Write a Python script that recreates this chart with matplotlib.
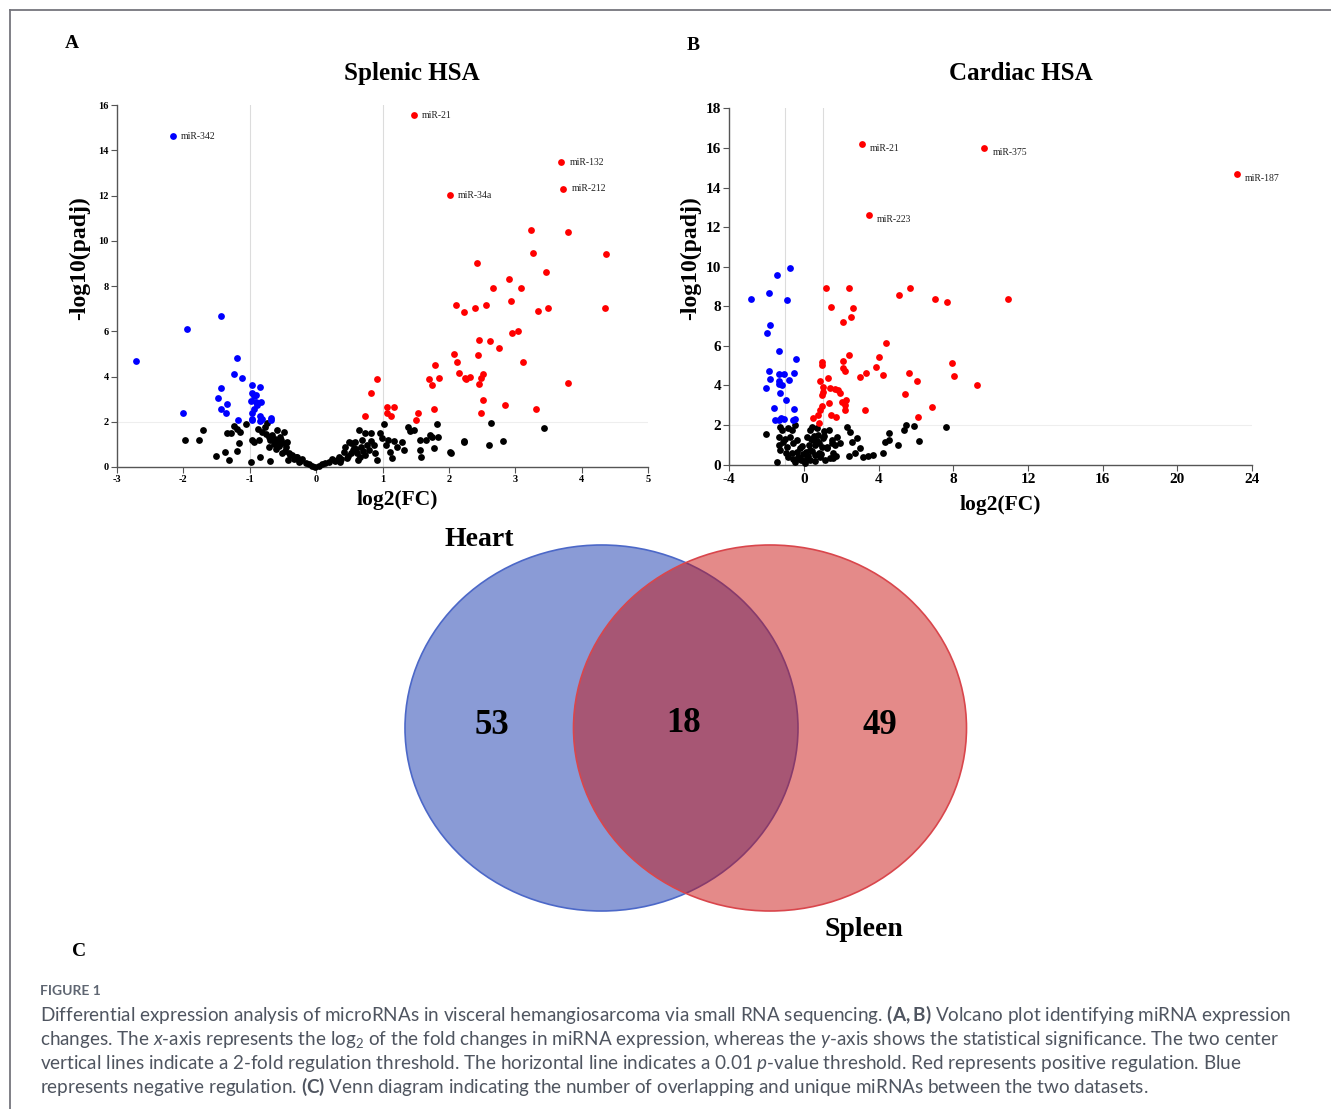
import numpy as np
import matplotlib.pyplot as plt
from matplotlib.patches import Ellipse

plt.rcParams["font.family"] = ["Liberation Serif", "DejaVu Serif"]
plt.rcParams["axes.unicode_minus"] = False
plt.rcParams["mathtext.fontset"] = "custom"
plt.rcParams["mathtext.rm"] = "Lato"
plt.rcParams["mathtext.it"] = "Lato:italic"
plt.rcParams["mathtext.bf"] = "Lato:bold"

# ---- panel A: splenic HSA ----
A_up_names = ["miR-21", "miR-132", "miR-212", "miR-34a"]
A_up_x = [1.47, 3.69, 3.72, 2.01, 3.24, 3.79, 3.26, 4.37, 2.43, 3.46, 2.91, 2.66, 3.09,
          2.93, 2.10, 2.56, 2.40, 2.23, 3.34, 3.50, 4.35, 2.95, 3.04, 2.46, 2.62, 2.75,
          2.08, 2.44, 2.12, 3.11, 1.79, 2.15, 2.24, 2.26, 2.32, 2.51, 2.49, 2.46, 1.70,
          1.74, 1.85, 0.91, 3.79, 0.82, 2.52, 2.84, 1.07, 1.17, 1.06, 1.13, 1.54, 1.78,
          2.48, 3.31, 0.73, 1.50]
A_up_y = [15.55, 13.48, 12.29, 12.02, 10.46, 10.40, 9.44, 9.42, 9.03, 8.60, 8.30, 7.92, 7.92,
          7.32, 7.15, 7.18, 7.05, 6.87, 6.89, 7.05, 7.05, 5.91, 6.00, 5.63, 5.55, 5.28,
          4.99, 4.93, 4.66, 4.65, 4.51, 4.16, 3.95, 3.88, 3.97, 4.09, 3.95, 3.69, 3.88,
          3.63, 3.95, 3.89, 3.70, 3.29, 2.98, 2.76, 2.64, 2.64, 2.40, 2.26, 2.37, 2.57,
          2.37, 2.58, 2.24, 2.06]
A_down_names = ["miR-342"]
A_down_x = [-2.16, -2.71, -1.95, -1.43, -1.19, -1.23, -1.12, -1.44, -1.48, -1.35, -1.44,
            -1.36, -2.00, -1.18, -0.97, -0.85, -0.96, -0.94, -0.90, -0.98, -0.91, -0.83,
            -0.89, -0.93, -0.97, -0.85, -0.81, -0.68, -0.96, -0.68, -0.85, -0.96]
A_down_y = [14.63, 4.68, 6.08, 6.68, 4.84, 4.11, 3.95, 3.51, 3.07, 2.80, 2.58,
            2.40, 2.39, 2.06, 3.63, 3.54, 3.29, 3.14, 3.17, 2.91, 2.88, 2.88,
            2.73, 2.58, 2.40, 2.26, 2.14, 2.17, 2.06, 2.09, 2.02, 2.14]
A_ns_x = [-1.98, -1.76, -1.71, -1.51, -1.37, -1.31, -1.34, -1.28, -1.23, -1.19, -1.14, -1.16,
          -1.19, -1.05, -0.98, -0.97, -0.94, -0.88, -0.86, -0.84, -0.81, -0.77, -0.74, -0.76,
          -0.69, -0.71, -0.69, -0.71, -0.64, -0.61, -0.58, -0.54, -0.49, -0.51, -0.51, -0.46,
          -0.44, -0.41, -0.43, -0.36, -0.33, -0.29, -0.26, -0.21, -0.16, -0.11, -0.06, -0.01,
          0.04, 0.09, 0.14, 0.19, 0.24, 0.29, 0.34, 0.38, 0.42, 0.44, 0.48, 0.52, 0.56, 0.58,
          0.62, 0.64, 0.67, 0.69, 0.73, 0.74, 0.77, 0.79, 0.82, 0.83, 0.87, 0.88, 0.92, 0.96,
          0.99, 1.02, 1.05, 1.08, 1.12, 1.14, 1.17, 1.22, 1.29, 1.32, 1.39, 1.41, 1.47, 1.56,
          1.57, 1.58, 1.66, 1.71, 1.75, 1.78, 1.82, 1.83, 2.02, 2.23, 2.60, 2.82, 2.63, 3.43,
          2.03, 2.22, -0.62, -0.56, -0.47, -0.39, -0.31, -0.24, 0.31, 0.36, 0.46, 0.53, 0.60,
          0.66, 0.71, -0.66, -0.59, -0.53, 0.50, 0.57, 0.63]
A_ns_y = [1.19, 1.21, 1.62, 0.50, 0.65, 0.31, 1.49, 1.52, 1.81, 1.67, 1.56, 1.06,
          0.69, 1.90, 0.21, 1.21, 1.09, 1.67, 1.19, 0.43, 1.56, 1.78, 1.93, 1.46,
          0.28, 1.34, 1.19, 0.90, 1.00, 0.80, 1.15, 1.34, 1.53, 1.05, 0.60, 0.87,
          1.09, 0.60, 0.31, 0.53, 0.34, 0.43, 0.24, 0.34, 0.19, 0.12, 0.04, 0.01,
          0.06, 0.12, 0.16, 0.22, 0.34, 0.28, 0.46, 0.34, 0.68, 0.90, 0.49, 1.05, 0.75, 1.12,
          0.63, 1.64, 0.90, 1.19, 1.52, 0.53, 0.97, 0.75, 1.16, 1.49, 0.97, 0.60, 0.31, 1.49,
          1.27, 1.90, 0.97, 1.19, 0.68, 0.38, 1.16, 0.90, 1.12, 0.75, 1.78, 1.61, 1.64, 1.19,
          0.75, 0.43, 1.19, 1.42, 1.34, 0.83, 1.90, 1.34, 0.68, 1.15, 0.99, 1.14, 1.96, 1.71,
          0.63, 1.12, 1.25, 0.95, 0.72, 0.55, 0.42, 0.28, 0.30, 0.20, 0.40, 0.62, 0.80,
          0.45, 0.70, 1.40, 1.62, 1.20, 1.10, 0.85, 0.30]

# ---- panel B: cardiac HSA ----
B_up_names = ["miR-21", "miR-223", "miR-375", "miR-187"]
B_up_x = [3.09, 3.48, 9.66, 23.18, 10.95, 9.29, 1.20, 2.39, 1.45, 2.64, 2.54, 2.07, 5.09,
          5.66, 7.00, 7.68, 4.39, 4.02, 3.84, 4.23, 3.30, 3.00, 2.43, 2.07, 2.07, 2.18,
          0.96, 0.96, 1.29, 0.86, 1.00, 1.00, 0.98, 1.39, 1.66, 1.84, 1.93, 1.34, 2.05,
          2.25, 2.20, 2.21, 0.96, 0.86, 0.73, 0.50, 0.82, 1.45, 1.70, 3.29, 5.39, 5.63,
          6.05, 7.91, 8.04, 6.88, 6.13]
B_up_y = [16.20, 12.61, 15.99, 14.68, 8.35, 4.02, 8.91, 8.91, 7.96, 7.90, 7.46, 7.21, 8.55,
          8.91, 8.35, 8.23, 6.16, 5.42, 4.95, 4.51, 4.63, 4.43, 5.54, 5.24, 4.90, 4.75,
          5.20, 5.02, 4.36, 4.21, 3.94, 3.69, 3.52, 3.89, 3.82, 3.77, 3.60, 3.10, 3.18,
          3.27, 3.01, 2.76, 2.96, 2.76, 2.51, 2.34, 2.09, 2.51, 2.42, 2.76, 3.55, 4.63,
          4.24, 5.12, 4.48, 2.93, 2.41]
B_down_x = [-0.77, -1.46, -1.88, -2.84, -0.89, -1.84, -1.98, -1.32, -0.41, -1.86, -1.32,
            -1.07, -0.55, -1.82, -0.79, -1.32, -1.20, -1.34, -2.02, -1.30, -0.95, -1.59,
            -0.52, -1.57, -1.36, -1.23, -1.05, -0.61, -0.50]
B_down_y = [9.93, 9.60, 8.69, 8.37, 8.33, 7.07, 6.63, 5.72, 5.32, 4.75, 4.58,
            4.58, 4.61, 4.33, 4.26, 4.21, 4.04, 4.06, 3.89, 3.62, 3.25, 2.85,
            2.79, 2.27, 2.27, 2.37, 2.29, 2.27, 2.31]
B_ns_x = [-2.05, -1.46, -1.29, -1.20, -1.32, -1.11, -1.34, -1.29, -0.84, -0.66, -0.48, -0.75,
          -0.89, -0.57, -0.39, -0.66, -0.84, -0.39, -0.30, -0.48, -0.13, 0.05, -0.07, -0.21,
          0.14, 0.32, 0.32, 0.41, 0.50, 0.59, 0.68, 0.77, 0.86, 0.82, 1.00, 1.07, 1.21, 1.36,
          1.39, 1.48, 1.57, 1.66, 1.79, 1.93, 1.57, 0.59, 1.13, 2.29, 2.46, 2.55, 2.82, 2.43,
          2.73, 3.00, 3.18, 3.45, 3.71, 4.21, 4.34, 4.55, 4.57, 5.05, 5.36, 5.46, 5.91, 6.18,
          7.61, -1.00, -0.95, -0.20, 0.00, 0.20, 0.25, 0.45, 0.55, 0.70, 0.90, 1.10, 1.25,
          -0.10, 0.10, 0.35, 0.60, 0.95, 1.50, 0.15, -0.60, 0.40, 0.80, 1.70]
B_ns_y = [1.53, 0.15, 1.92, 1.75, 1.41, 1.16, 0.99, 0.74, 1.84, 1.75, 2.00, 1.41,
          0.91, 1.08, 1.25, 0.57, 0.40, 0.66, 0.40, 0.15, 0.24, 0.07, 0.54, 0.82,
          0.32, 0.74, 1.75, 1.92, 1.25, 0.99, 1.84, 1.50, 0.40, 1.08, 1.33, 1.70, 0.82, 1.75,
          0.32, 1.25, 0.61, 0.99, 1.38, 1.08, 0.32, 0.49, 0.24, 1.92, 1.67, 1.16, 1.33, 0.44,
          0.57, 0.82, 0.40, 0.44, 0.49, 0.61, 1.16, 1.62, 1.25, 0.99, 1.75, 2.00, 1.97, 1.21,
          1.90, 1.30, 0.60, 0.30, 0.20, 0.45, 1.00, 0.70, 1.45, 1.20, 0.55, 1.45, 0.90,
          0.95, 0.65, 0.25, 0.20, 0.90, 1.10, 1.40, 0.30, 1.30, 0.60, 0.45]

# ---- panel C: venn counts ----
venn_counts = [53, 18, 49]
venn_sets = ["Heart", "Spleen"]

caption = [
    r"Differential expression analysis of microRNAs in visceral hemangiosarcoma via small RNA sequencing. $\mathbf{(A,B)}$ Volcano plot identifying miRNA expression",
    r"changes. The $\mathit{x}$-axis represents the log$_2$ of the fold changes in miRNA expression, whereas the $\mathit{y}$-axis shows the statistical significance. The two center",
    r"vertical lines indicate a 2-fold regulation threshold. The horizontal line indicates a 0.01 $\mathit{p}$-value threshold. Red represents positive regulation. Blue",
    r"represents negative regulation. $\mathbf{(C)}$ Venn diagram indicating the number of overlapping and unique miRNAs between the two datasets.",
]


def volcano(ax, up, down, ns, xlim, ylim, xticks, yticks, title, tick_fs, lab_dy,
            title_pos, xlab_pos, ylab_pos):
    ax.axvline(-1, color="#dcdcdc", lw=0.8, zorder=0)
    ax.axvline(1, color="#dcdcdc", lw=0.8, zorder=0)
    ax.axhline(2, color="#eeeeee", lw=0.8, zorder=0)
    for (xs, ys, names), col in zip([ns, down, up], ["black", "#0000ff", "#ff0000"]):
        ax.scatter(xs, ys, s=24, color=col, linewidths=0, clip_on=False, zorder=3)
        for name, x, y in zip(names, xs, ys):
            ax.annotate(name, (x, y), xytext=(6, lab_dy), textcoords="offset points",
                        fontsize=7, va="center", ha="left", color="#222222")
    ax.set_xlim(*xlim)
    ax.set_ylim(*ylim)
    ax.set_xticks(xticks)
    ax.set_yticks(yticks)
    for s in ["top", "right"]:
        ax.spines[s].set_visible(False)
    for s in ["left", "bottom"]:
        ax.spines[s].set_color("#555555")
        ax.spines[s].set_linewidth(1.0)
    ax.tick_params(labelsize=tick_fs, length=4, width=0.8, color="#555555", pad=2)
    for lab in ax.get_xticklabels() + ax.get_yticklabels():
        lab.set_fontweight("bold")
    ax.set_xlabel("log2(FC)", fontsize=15.5, fontweight="bold", va="center")
    ax.xaxis.set_label_coords(*xlab_pos)
    ax.set_ylabel("-log10(padj)", fontsize=17, fontweight="bold", va="center")
    ax.yaxis.set_label_coords(*ylab_pos)
    ax.text(title_pos[0], title_pos[1], title, transform=ax.transAxes, fontsize=18,
            fontweight="bold", ha="center", va="center")


fig = plt.figure(figsize=(13.31, 11.09), dpi=100)

axA = fig.add_axes([0.0879, 0.5789, 0.3990, 0.3264])
volcano(axA, (A_up_x, A_up_y, A_up_names), (A_down_x, A_down_y, A_down_names),
        (A_ns_x, A_ns_y, []), (-3, 5), (0, 16), range(-3, 6), range(0, 17, 2),
        "Splenic HSA", 7.5, 0, (0.556, 1.086), (0.527, -0.091), (-0.070, 0.577))

axB = fig.add_axes([0.5479, 0.5810, 0.3927, 0.3213])
volcano(axB, (B_up_x, B_up_y, B_up_names), (B_down_x, B_down_y, []),
        (B_ns_x, B_ns_y, []), (-4, 24), (0, 18), range(-4, 25, 4), range(0, 19, 2),
        "Cardiac HSA", 11, -3, (0.558, 1.099), (0.518, -0.113), (-0.075, 0.58))

# overlay in pixel coords for venn, panel letters, caption and frame
ov = fig.add_axes([0, 0, 1, 1], zorder=-1)
ov.set_xlim(0, 1331)
ov.set_ylim(1109, 0)
ov.axis("off")
ov.plot([10, 10], [10, 1109], color="#75757d", lw=1.3)
ov.plot([10, 1331], [10, 10], color="#75757d", lw=1.3)

for letter, (x, y) in zip("ABC", [(72, 44), (693, 46), (79, 951)]):
    ov.text(x, y, letter, fontsize=14, fontweight="bold", ha="center", va="center")

ov.add_patch(Ellipse((601.5, 728), 393, 366, facecolor="#8a9bd6", edgecolor="#4c68c8",
                     lw=1.2))
ov.add_patch(Ellipse((770, 728), 393, 366, facecolor=(0.785, 0.043, 0.035, 0.48),
                     edgecolor="#d9464c", lw=1.2))
for n, (x, y) in zip(venn_counts, [(491.5, 725), (683.8, 723), (880, 726)]):
    ov.text(x, y, str(n), fontsize=25, fontweight="bold", ha="center", va="center")
ov.text(479, 539, venn_sets[0], fontsize=20, fontweight="bold", ha="center", va="center")
ov.text(864, 930, venn_sets[1], fontsize=20, fontweight="bold", ha="center", va="center")

ov.text(40, 991, "FIGURE 1", family="Lato", fontsize=10, fontweight="bold",
        color="#5f6672", ha="left", va="center")
for i, line in enumerate(caption):
    ov.text(40, 1015 + 24 * i, line, family="Lato", fontsize=13.6, color="#4f5560",
            ha="left", va="center")

fig.savefig("out.png", dpi=100)
